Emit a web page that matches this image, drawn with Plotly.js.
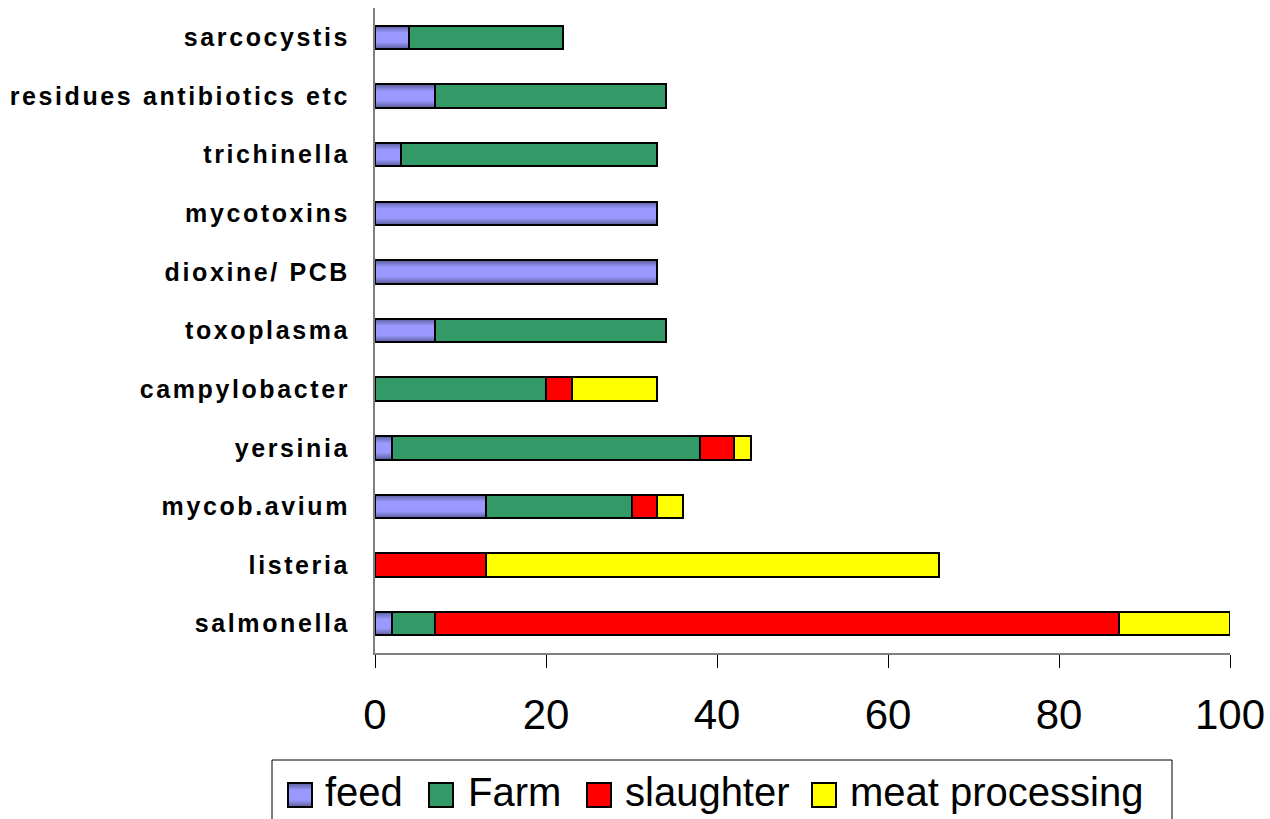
<!DOCTYPE html>
<html>
<head>
<meta charset="utf-8">
<script src="https://cdn.plot.ly/plotly-3.0.1.min.js"></script>
<style>
  html, body { margin: 0; padding: 0; background: #ffffff; }
  #chart { width: 1270px; height: 819px; }
  /* widely spaced bold category names */
  #chart .ytick text { letter-spacing: 2.6px; }
</style>
</head>
<body>
<div id="chart"></div>
<script>
// Hazards along the pork chain, share attributed to each stage (%)
const hazards = [
  "salmonella", "listeria", "mycob.avium", "yersinia", "campylobacter",
  "toxoplasma", "dioxine/ PCB", "mycotoxins", "trichinella",
  "residues antibiotics etc", "sarcocystis"
];
const feed       = [2, 0, 13, 2, 0, 7, 33, 33, 3, 7, 4];
const farm       = [5, 0, 17, 36, 20, 27, 0, 0, 30, 27, 18];
const slaughter  = [80, 13, 3, 4, 3, 0, 0, 0, 0, 0, 0];
const processing = [13, 53, 3, 2, 10, 0, 0, 0, 0, 0, 0];

const stageNames  = ["feed", "Farm", "slaughter", "meat processing"];
const stageColors = ["#9999FF", "#339966", "#FF0000", "#FFFF00"];
const stageValues = [feed, farm, slaughter, processing];

const W = 1270, H = 819;
const M = { l: 375, r: 40, t: 8, b: 166 };
const plotW = W - M.l - M.r, plotH = H - M.t - M.b;
// page pixel -> paper fraction, for the hand-built key below the axis
const px = (x) => (x - M.l) / plotW;
const py = (y) => (H - M.b - y) / plotH;

const traces = stageValues.map((vals, i) => ({
  type: "bar",
  orientation: "h",
  name: stageNames[i],
  y: hazards,
  x: vals,
  marker: { color: stageColors[i], line: { color: "#000000", width: 2 } },
  hoverinfo: "x+y+name"
}));

// key: framed box with a swatch and a label per stage
const keyBox = { x0: 272, x1: 1172, y0: 760, y1: 840 };
const keyItems = [
  { sw: 288, tx: 323 },
  { sw: 429, tx: 466 },
  { sw: 587, tx: 623 },
  { sw: 812, tx: 848 }
];
const shapes = [{
  type: "rect", xref: "paper", yref: "paper",
  x0: px(keyBox.x0), x1: px(keyBox.x1), y0: py(keyBox.y0), y1: py(keyBox.y1),
  line: { color: "#000000", width: 1 }, fillcolor: "#ffffff", layer: "above"
}];
const annotations = [];
keyItems.forEach((it, i) => {
  shapes.push({
    type: "rect", xref: "paper", yref: "paper",
    x0: px(it.sw), x1: px(it.sw + 24), y0: py(783), y1: py(807),
    line: { color: "#000000", width: 2 }, fillcolor: stageColors[i], layer: "above"
  });
  annotations.push({
    xref: "paper", yref: "paper", x: px(it.tx), y: py(792),
    xanchor: "left", yanchor: "middle", showarrow: false,
    text: stageNames[i],
    font: { family: "Liberation Sans, Arial, sans-serif", size: 40, color: "#000000" }
  });
});

const layout = {
  width: W,
  height: H,
  barmode: "stack",
  bargap: 0.6,
  paper_bgcolor: "#ffffff",
  plot_bgcolor: "#ffffff",
  margin: { l: M.l, r: M.r, t: M.t, b: M.b, pad: 0 },
  showlegend: false,
  shapes: shapes,
  annotations: annotations,
  xaxis: {
    range: [0, 100],
    tickvals: [0, 20, 40, 60, 80, 100],
    ticks: "outside",
    ticklen: 13,
    tickwidth: 1,
    tickcolor: "#000000",
    showgrid: false,
    zeroline: false,
    showline: true,
    linecolor: "#808080",
    linewidth: 2,
    ticklabelstandoff: 11,
    tickfont: { family: "Liberation Sans, Arial, sans-serif", size: 42, color: "#000000" },
    fixedrange: true
  },
  yaxis: {
    type: "category",
    categoryorder: "array",
    categoryarray: hazards,
    range: [-0.5, 10.5],
    ticks: "",
    showgrid: false,
    zeroline: false,
    showline: true,
    linecolor: "#808080",
    linewidth: 2,
    ticklabelstandoff: 18,
    tickfont: { family: "Liberation Sans, Arial, sans-serif", size: 25, color: "#000000", weight: "bold" },
    fixedrange: true
  }
};

// shaded fill for the feed bars and swatch: darker at the top and bottom edges
function addFeedShading(gd) {
  const svg = gd.querySelector("svg.main-svg");
  const ns = "http://www.w3.org/2000/svg";
  let defs = svg.querySelector("defs");
  if (!defs) { defs = document.createElementNS(ns, "defs"); svg.insertBefore(defs, svg.firstChild); }
  const grad = document.createElementNS(ns, "linearGradient");
  grad.setAttribute("id", "feedShade");
  grad.setAttribute("x1", "0"); grad.setAttribute("y1", "0");
  grad.setAttribute("x2", "0"); grad.setAttribute("y2", "1");
  [["0", "#5c5c99"], ["0.3", "#9999ff"], ["0.7", "#9999ff"], ["1", "#5c5c99"]].forEach(([o, c]) => {
    const s = document.createElementNS(ns, "stop");
    s.setAttribute("offset", o); s.setAttribute("stop-color", c);
    grad.appendChild(s);
  });
  defs.appendChild(grad);
  const feedTrace = gd.querySelectorAll(".barlayer .trace")[0];
  if (feedTrace) {
    feedTrace.querySelectorAll("path").forEach((p) => { p.style.fill = "url(#feedShade)"; });
  }
  const swatch = gd.querySelectorAll(".shapelayer path")[1];
  if (swatch) swatch.style.fill = "url(#feedShade)";
}

Plotly.newPlot("chart", traces, layout, { displayModeBar: false, staticPlot: true })
  .then(addFeedShading);
</script>
</body>
</html>
